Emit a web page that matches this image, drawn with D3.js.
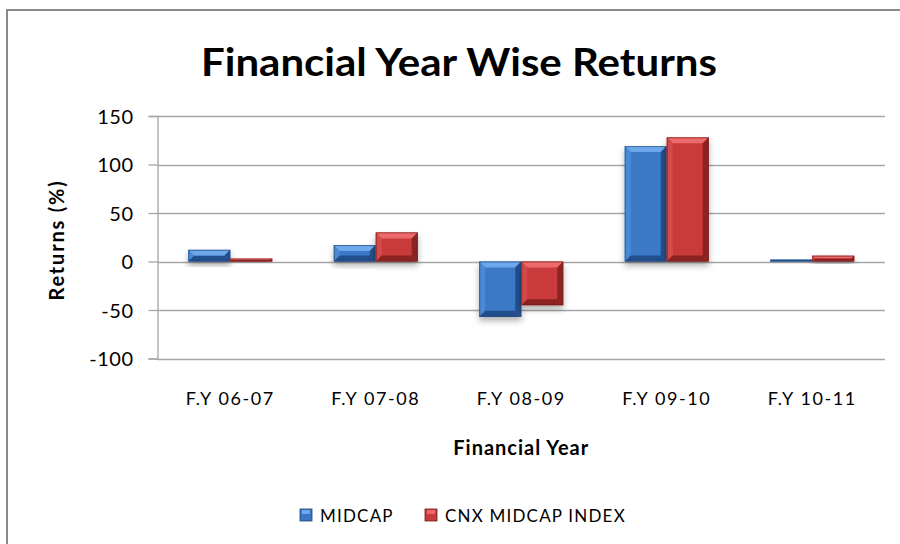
<!DOCTYPE html>
<html>
<head>
<meta charset="utf-8">
<script src="https://cdn.jsdelivr.net/npm/d3@7"></script>
<style>
  body { margin: 0; background: #fff; }
  text { font-family: Lato, "Open Sans", sans-serif; fill: #000; }
</style>
</head>
<body>
<div id="chart"></div>
<script>
(function () {
  const width = 900, height = 544;

  const categories = ["F.Y 06-07", "F.Y 07-08", "F.Y 08-09", "F.Y 09-10", "F.Y 10-11"];
  const seriesNames = ["MIDCAP", "CNX MIDCAP INDEX"];
  const midcap = [12, 17, -57, 119, 2];
  const cnxMidcap = [3, 30, -45, 128, 6];
  const yTicks = [-100, -50, 0, 50, 100, 150];

  const palette = {
    "MIDCAP": { base: "#3a78c6", light: "#6ea8ec", mid: "#4a8ad6", dark: "#244f8c", edge: "#1e4270" },
    "CNX MIDCAP INDEX": { base: "#c93a3a", light: "#ec6a6a", mid: "#d44848", dark: "#8c2424", edge: "#6e1c1c" }
  };

  const rows = categories.map((c, i) => ({ cat: c, values: [
    { key: seriesNames[0], v: midcap[i] },
    { key: seriesNames[1], v: cnxMidcap[i] }
  ]}));

  const svg = d3.select("#chart").append("svg")
    .attr("width", width)
    .attr("height", height);

  const defs = svg.append("defs");
  const f = defs.append("filter").attr("id", "shadow")
    .attr("x", "-20%").attr("y", "-20%").attr("width", "140%").attr("height", "160%");
  f.append("feDropShadow").attr("dx", 0).attr("dy", 4)
    .attr("stdDeviation", 3).attr("flood-color", "#000").attr("flood-opacity", 0.3);

  // outer frame
  svg.append("rect")
    .attr("x", 7).attr("y", 10)
    .attr("width", width + 10).attr("height", height + 10)
    .attr("fill", "none").attr("stroke", "#8a8a8a").attr("stroke-width", 2);

  const plot = { left: 157.5, right: 885, top: 116, bottom: 358.5 };

  const x = d3.scaleBand().domain(categories)
    .range([plot.left, plot.right]).paddingInner(0.423).paddingOuter(0.2115);
  const xs = d3.scaleBand().domain(seriesNames).range([0, x.bandwidth()]);
  const y = d3.scaleLinear().domain([-100, 150]).range([plot.bottom, plot.top]);

  // gridlines
  svg.append("g").selectAll("line").data(yTicks).join("line")
    .attr("x1", plot.left).attr("x2", plot.right)
    .attr("y1", d => Math.round(y(d)) + 0.5).attr("y2", d => Math.round(y(d)) + 0.5)
    .attr("stroke", "#a6a6a6").attr("stroke-width", 1.3);

  // y axis
  const yAxis = svg.append("g")
    .attr("transform", `translate(${plot.left},0)`)
    .call(d3.axisLeft(y).tickValues(yTicks).tickSize(9).tickPadding(15).tickFormat(d => String(d)));
  yAxis.select(".domain").attr("stroke", "#a6a6a6").attr("stroke-width", 1.3);
  yAxis.selectAll(".tick line").attr("stroke", "#a6a6a6").attr("stroke-width", 1.3);
  yAxis.selectAll(".tick text").attr("font-size", 20).attr("fill", "#000")
    .attr("letter-spacing", 0.5)
    .style("font-family", "Lato, sans-serif").attr("dy", "0.35em");

  // bars
  const groups = svg.append("g").selectAll("g").data(rows).join("g")
    .attr("transform", d => `translate(${x(d.cat)},0)`);

  const bars = groups.selectAll("g").data(d => d.values).join("g")
    .attr("filter", "url(#shadow)");

  bars.each(function (d) {
    const g = d3.select(this);
    const c = palette[d.key];
    const bx = xs(d.key), bw = xs.bandwidth();
    const y0 = y(Math.max(0, d.v)), y1 = y(Math.min(0, d.v));
    const bh = Math.max(1.5, y1 - y0);
    const b = Math.min(6, bh / 2, bw / 2);
    g.append("rect").attr("x", bx).attr("y", y0).attr("width", bw).attr("height", bh)
      .attr("fill", c.base);
    const x1 = bx + bw, yb = y0 + bh;
    const poly = (pts, fill) => g.append("polygon")
      .attr("points", pts.map(p => p.join(",")).join(" ")).attr("fill", fill);
    poly([[bx, y0], [x1, y0], [x1 - b, y0 + b], [bx + b, y0 + b]], c.light);
    poly([[bx, y0], [bx + b, y0 + b], [bx + b, yb - b], [bx, yb]], c.mid);
    poly([[x1, y0], [x1, yb], [x1 - b, yb - b], [x1 - b, y0 + b]], c.dark);
    poly([[bx, yb], [bx + b, yb - b], [x1 - b, yb - b], [x1, yb]], c.dark);
    g.append("rect").attr("x", bx + 0.5).attr("y", y0 + 0.5)
      .attr("width", Math.max(0, bw - 1)).attr("height", Math.max(0, bh - 1))
      .attr("fill", "none").attr("stroke", c.edge).attr("stroke-opacity", 0.6);
  });

  // x labels
  svg.append("g").selectAll("text").data(categories).join("text")
    .attr("x", d => x(d) + x.bandwidth() / 2)
    .attr("y", 405)
    .attr("text-anchor", "middle")
    .attr("font-size", 18).attr("letter-spacing", 1.6)
    .text(d => d);

  // titles
  svg.append("text")
    .attr("x", 459).attr("y", 76)
    .attr("text-anchor", "middle")
    .attr("font-size", 39).attr("font-weight", "bold")
    .attr("textLength", 516).attr("lengthAdjust", "spacingAndGlyphs")
    .text("Financial Year Wise Returns");

  svg.append("text")
    .attr("x", (plot.left + plot.right) / 2).attr("y", 455)
    .attr("text-anchor", "middle")
    .attr("font-size", 20).attr("font-weight", "bold").attr("letter-spacing", 1)
    .text("Financial Year");

  svg.append("text")
    .attr("transform", `translate(64,240) rotate(-90)`)
    .attr("text-anchor", "middle")
    .attr("font-size", 20).attr("font-weight", "bold").attr("letter-spacing", 1.8)
    .text("Returns (%)");

  // legend
  const legendX = [300, 425];
  const legend = svg.append("g").selectAll("g").data(seriesNames).join("g")
    .attr("transform", (d, i) => `translate(${legendX[i]},509)`);
  legend.append("rect").attr("width", 12).attr("height", 12)
    .attr("fill", d => palette[d].base).attr("stroke", d => palette[d].edge).attr("stroke-width", 0.8);
  legend.append("rect").attr("x", 2).attr("y", 1).attr("width", 8).attr("height", 4)
    .attr("fill", d => palette[d].light);
  legend.append("text").attr("x", 20).attr("y", 13)
    .attr("font-size", 17).attr("letter-spacing", 1.2)
    .text(d => d);
})();
</script>
</body>
</html>
